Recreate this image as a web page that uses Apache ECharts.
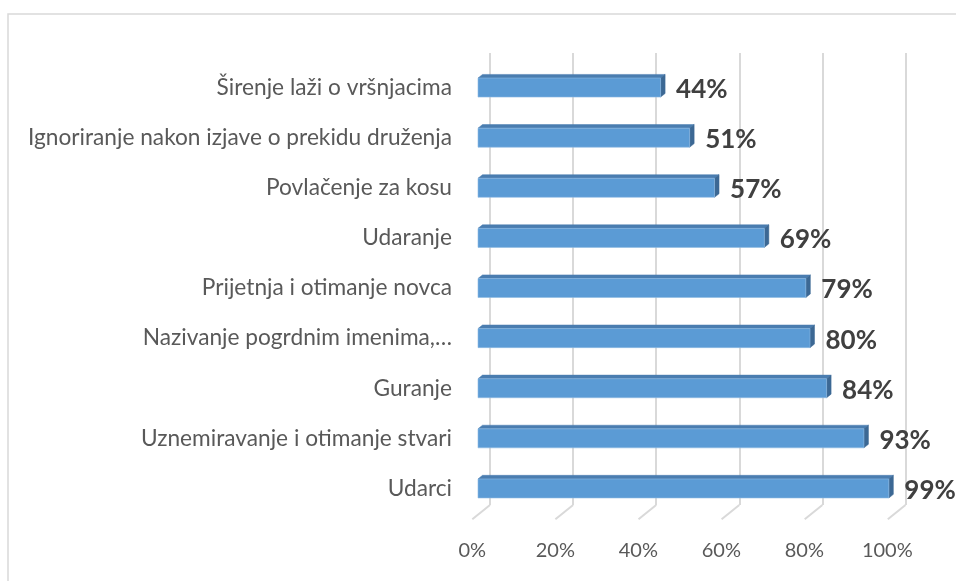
<!DOCTYPE html>
<html>
<head>
<meta charset="utf-8">
<script src="https://cdn.jsdelivr.net/npm/echarts@6/dist/echarts.min.js"></script>
<style>
  html, body { margin: 0; padding: 0; background: #fff; }
  #chart { width: 956px; height: 581px; }
</style>
</head>
<body>
<div id="chart"></div>
<script>
// Categories listed top to bottom
const categories = [
  'Širenje laži o vršnjacima',
  'Ignoriranje nakon izjave o prekidu druženja',
  'Povlačenje za kosu',
  'Udaranje',
  'Prijetnja i otimanje novca',
  'Nazivanje pogrdnim imenima,…',
  'Guranje',
  'Uznemiravanje i otimanje stvari',
  'Udarci'
];
// Share of respondents, in percent
const values = [44, 51, 57, 69, 79, 80, 84, 93, 99];
// Value axis ticks
const tickValues = [0, 20, 40, 60, 80, 100];

const FONT = 'Lato, "Open Sans", sans-serif';
const GRAY = '#595959';
// Oblique depth of each bar (x right, y up)
const DEPTH_X = 4.5, DEPTH_Y = 3.6;
// Offset from the back wall to the front edge of the floor
const FLOOR_DX = -17.7, FLOOR_DY = 14.3;

const chart = echarts.init(document.getElementById('chart'), null, { renderer: 'canvas' });

const option = {
  animation: false,
  backgroundColor: '#ffffff',
  graphic: [{
    type: 'rect',
    shape: { x: 8, y: 14, width: 1200, height: 1200 },
    style: { fill: 'none', stroke: '#d9d9d9', lineWidth: 1.5 },
    silent: true,
    z: 0
  }],
  grid: [
    // back wall
    { left: 490, top: 53, width: 415.5, height: 452 },
    // front plane of the bars
    { left: 478, top: 62.5, width: 415, height: 451 },
    // front edge of the floor (value labels)
    { left: 472.3, top: 67, width: 415, height: 452 }
  ],
  xAxis: [
    {
      gridIndex: 0, type: 'value', min: 0, max: 100, interval: 20,
      axisLine: { show: false }, axisTick: { show: false }, axisLabel: { show: false },
      splitLine: { show: true, lineStyle: { color: '#d9d9d9', width: 2 } }
    },
    {
      gridIndex: 1, type: 'value', min: 0, max: 100, interval: 20,
      axisLine: { show: false }, axisTick: { show: false }, axisLabel: { show: false },
      splitLine: { show: false }
    },
    {
      gridIndex: 2, type: 'value', min: 0, max: 100, interval: 20,
      axisLine: { show: false }, axisTick: { show: false },
      splitLine: { show: false },
      axisLabel: {
        show: true, margin: 22, color: GRAY, fontFamily: FONT, fontSize: 20,
        formatter: function (v) { return tickValues.indexOf(v) >= 0 ? v + '%' : ''; }
      }
    }
  ],
  yAxis: [
    {
      gridIndex: 0, type: 'category', data: categories, inverse: true,
      axisLine: { show: false }, axisTick: { show: false }, axisLabel: { show: false },
      splitLine: { show: false }
    },
    {
      gridIndex: 1, type: 'category', data: categories, inverse: true,
      axisLine: { show: false }, axisTick: { show: false },
      splitLine: { show: false },
      axisLabel: { show: true, margin: 26, color: GRAY, fontFamily: FONT, fontSize: 22.7 }
    },
    {
      gridIndex: 2, type: 'category', data: categories, inverse: true, show: false
    }
  ],
  series: [
    {
      // diagonal floor lines joining the wall gridlines to the floor edge
      type: 'custom',
      xAxisIndex: 0, yAxisIndex: 0,
      data: tickValues.map(function (v) { return [v, 0]; }),
      silent: true,
      z: 1,
      renderItem: function (params, api) {
        const cs = params.coordSys;
        const x = api.coord([api.value(0), 0])[0];
        const y = cs.y + cs.height;
        return {
          type: 'line',
          shape: { x1: x, y1: y, x2: x + FLOOR_DX, y2: y + FLOOR_DY },
          style: { stroke: '#d9d9d9', lineWidth: 2 }
        };
      }
    },
    {
      // 3D-look bars with value labels
      type: 'custom',
      xAxisIndex: 1, yAxisIndex: 1,
      data: values.map(function (v, i) { return [v, i]; }),
      z: 3,
      renderItem: function (params, api) {
        const v = api.value(0);
        const idx = api.value(1);
        const p0 = api.coord([0, idx]);
        const p1 = api.coord([v, idx]);
        const band = api.size([0, 1])[1];
        const h = band * 0.38;
        const x0 = p0[0], x1 = p1[0];
        const yt = p0[1] - h / 2, yb = p0[1] + h / 2;
        return {
          type: 'group',
          children: [
            {
              type: 'polygon',
              shape: { points: [[x0, yt], [x1, yt], [x1 + DEPTH_X, yt - DEPTH_Y], [x0 + DEPTH_X, yt - DEPTH_Y]] },
              style: { fill: '#4a7db0', stroke: '#4a7db0', lineWidth: 0.5 }
            },
            {
              type: 'polygon',
              shape: { points: [[x1, yt], [x1 + DEPTH_X, yt - DEPTH_Y], [x1 + DEPTH_X, yb - DEPTH_Y], [x1, yb]] },
              style: { fill: '#3c6894', stroke: '#3c6894', lineWidth: 0.5 }
            },
            {
              type: 'rect',
              shape: { x: x0, y: yt, width: x1 - x0, height: h },
              style: { fill: '#5b9bd5', stroke: '#8fbbe3', lineWidth: 0.6 }
            },
            {
              type: 'text',
              x: x1 + 15.5,
              y: p0[1] + 2,
              style: {
                text: v + '%',
                fill: '#404040',
                font: 'bold 26px ' + FONT,
                align: 'left',
                verticalAlign: 'middle'
              }
            }
          ]
        };
      }
    }
  ]
};

chart.setOption(option);
</script>
</body>
</html>
